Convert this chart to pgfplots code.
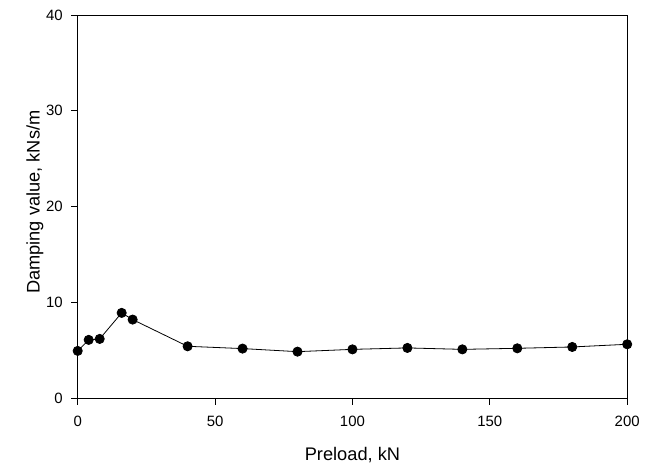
\documentclass[border=0pt]{standalone}
\usepackage{fontspec}
\setmainfont{Liberation Sans}
\usepackage{pgfplots}
\pgfplotsset{compat=1.18}
\usetikzlibrary{calc}

\begin{document}
\begin{tikzpicture}
  \begin{axis}[
    scale only axis,
    width=549.5bp,
    height=383bp,
    xmin=0, xmax=200,
    ymin=0, ymax=40,
    xtick={0,50,100,150,200},
    ytick={0,10,20,30,40},
    tick align=outside,
    major tick length=6.5bp,
    xtick pos=bottom,
    ytick pos=left,
    axis line style={black, line width=0.8bp},
    tick style={black, line width=0.8bp},
    tick label style={font=\fontsize{15}{17}\selectfont},
    xticklabel style={yshift=-8bp},
    yticklabel style={xshift=-5bp},
    /pgf/number format/assume math mode=true,
    xlabel={Preload, kN},
    ylabel={Damping value, kNs/m},
    label style={font=\fontsize{18.3}{21}\selectfont},
    xlabel style={at={(axis description cs:0.5,-0.148)}, anchor=center},
    ylabel style={at={(axis description cs:-0.0777,0.511)}, anchor=center},
    clip=false
  ]
    \coordinate (o) at (rel axis cs:0,0);
    \coordinate (e) at (rel axis cs:1,1);

    % gemessene Dämpfungswerte
    \addplot[
      black,
      line width=0.8bp,
      mark=*,
      mark size=4.6bp,
      mark options={fill=black}
    ] coordinates {
      (0,4.92)
      (4,6.07)
      (8,6.17)
      (16,8.89)
      (20,8.19)
      (40,5.40)
      (60,5.16)
      (80,4.84)
      (100,5.08)
      (120,5.23)
      (140,5.08)
      (160,5.19)
      (180,5.33)
      (200,5.61)
    };
  \end{axis}
  \pgfresetboundingbox
  \path ($(o)+(-77.7bp,-64.7bp)$) rectangle ($(e)+(30.8bp,15bp)$);
\end{tikzpicture}
\end{document}
